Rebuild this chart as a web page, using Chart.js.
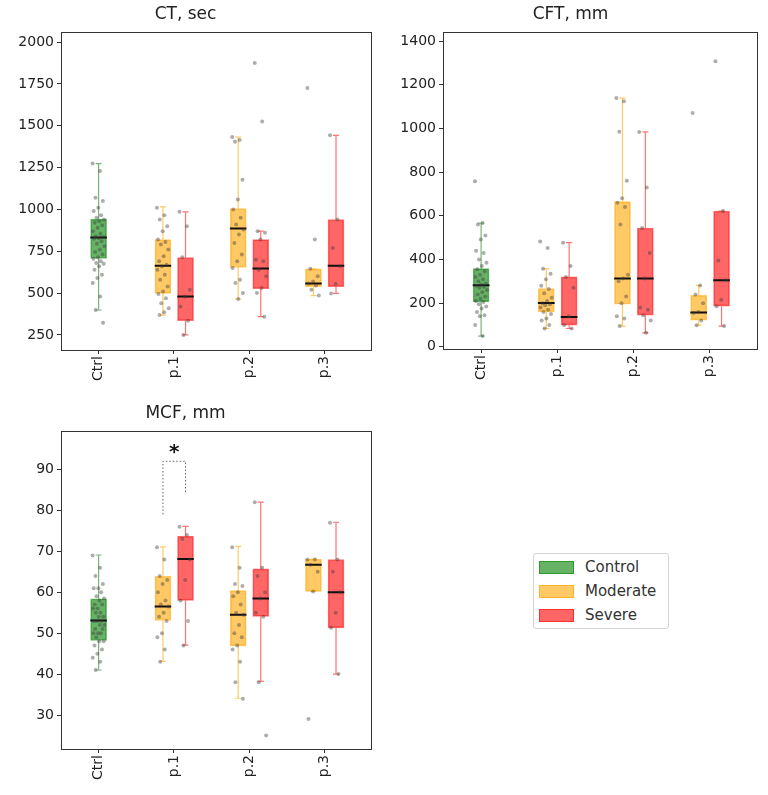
<!DOCTYPE html>
<html>
<head>
<meta charset="utf-8">
<script src="https://cdn.jsdelivr.net/npm/chart.js@4.4.0/dist/chart.umd.min.js"></script>
<style>
  body { margin: 0; background: #fff; }
  #wrap { position: relative; width: 768px; height: 795px; font-family: "DejaVu Sans", sans-serif; }
  canvas { position: absolute; }
  #legend {
    position: absolute; left: 533px; top: 553px; width: 134px; height: 74px;
    border: 1px solid #d4d4d4; border-radius: 3px; background: #fff;
  }
  #legend .row { position: absolute; left: 5px; height: 16px; font-size: 15px; color: #333; line-height: 16px; }
  #legend .patch { position: absolute; left: 0; top: 2px; width: 33px; height: 11px; }
  #legend .lbl { position: absolute; left: 46px; top: 0; white-space: nowrap; }
</style>
</head>
<body>
<div id="wrap">
  <canvas id="ctChart" width="384" height="400" style="left:0;top:0"></canvas>
  <canvas id="cftChart" width="384" height="400" style="left:384px;top:0"></canvas>
  <canvas id="mcfChart" width="384" height="400" style="left:0;top:399px"></canvas>
  <div id="legend"></div>
</div>
<script>
// ===== DATA =====
const categories = ['Ctrl', 'p.1', 'p.2', 'p.3'];
const groupNames = ['Control', 'Moderate', 'Severe'];

// box stats: [low whisker, q1, median, q3, high whisker]
const ctControl = [399, 707, 832, 942, 1274];
const ctModerate = [[369, 498, 663, 820, 1015], [465, 653, 886, 1005, 1433], [485, 538, 558, 645, 645]];
const ctSevere = [[250, 335, 480, 713, 986], [359, 526, 647, 820, 870], [498, 538, 663, 940, 1443]];
const ctControlPts = [1274, 1230, 1070, 1050, 1010, 990, 965, 950, 940, 930, 920, 905, 890, 870, 855, 840, 835, 830, 825, 810, 795, 780, 760, 745, 730, 715, 705, 690, 680, 675, 660, 640, 610, 590, 560, 480, 399, 323];
const ctModeratePts = [
  [1010, 965, 940, 900, 870, 820, 805, 790, 760, 720, 690, 670, 660, 640, 610, 580, 540, 510, 495, 470, 440, 410, 385, 369],
  [1433, 1415, 1405, 1178, 1060, 1000, 950, 910, 880, 850, 800, 730, 690, 650, 580, 560, 500, 465],
  [1725, 820, 645, 600, 570, 558, 545, 520, 485]
];
const ctSeverePts = [
  [986, 900, 715, 520, 480, 420, 335, 250],
  [1875, 1525, 870, 860, 820, 700, 690, 640, 600, 530, 500, 359],
  [1443, 940, 770, 660, 555, 498]
];
const ctTicks = [250, 500, 750, 1000, 1250, 1500, 1750, 2000];
const ctRange = [160, 2058];

const cftControl = [49, 206, 282, 358, 567];
const cftModerate = [[84, 160, 201, 267, 358], [95, 195, 313, 665, 1139], [99, 122, 157, 236, 281]];
const cftSevere = [[84, 99, 137, 320, 477], [64, 145, 313, 544, 984], [95, 186, 305, 622, 622]];
const cftControlPts = [758, 567, 560, 510, 491, 440, 430, 400, 385, 370, 355, 345, 330, 320, 310, 300, 290, 285, 280, 275, 270, 260, 250, 240, 230, 220, 210, 205, 195, 185, 175, 160, 145, 140, 100, 49];
const cftModeratePts = [
  [482, 453, 358, 335, 310, 280, 265, 245, 225, 210, 200, 195, 190, 180, 170, 160, 150, 130, 120, 100, 84],
  [1139, 1125, 985, 760, 680, 660, 640, 560, 330, 313, 300, 230, 200, 140, 130, 95],
  [1071, 281, 240, 200, 160, 155, 120, 99]
];
const cftSeverePts = [
  [477, 370, 320, 270, 140, 100, 84],
  [984, 730, 544, 430, 313, 180, 170, 145, 120, 64],
  [1308, 622, 395, 305, 215, 186, 95]
];
const cftTicks = [0, 200, 400, 600, 800, 1000, 1200, 1400];
const cftRange = [-10, 1440];

const mcfControl = [41, 48.2, 53.1, 58.4, 69.1];
const mcfModerate = [[43.1, 53.1, 56.5, 63.9, 71.1], [34.1, 46.9, 54.5, 60.4, 71.2], [60.2, 60.2, 66.7, 68.1, 68.1]];
const mcfSevere = [[47.1, 58, 68.1, 73.7, 76.1], [38.2, 54.1, 58.5, 65.7, 82], [40, 51.3, 60, 68, 77.1]];
const mcfControlPts = [69, 66, 64, 62, 61, 61, 60, 59, 58.5, 58, 57, 57, 56, 56, 55, 55, 54, 54, 53, 53, 53, 52, 52, 51, 51, 50, 50, 50, 49, 48, 48, 47, 46, 45, 44, 43, 41];
const mcfModeratePts = [
  [71, 68, 64, 63, 62, 60, 58, 57, 56.5, 55, 54, 53, 50, 49, 46, 43],
  [71, 66, 62, 61.5, 60, 59, 57, 55, 54.5, 52, 50, 49, 47, 46, 43, 38, 34],
  [68, 68, 66.7, 65, 60.2, 29]
];
const mcfSeverePts = [
  [76, 74, 73, 68, 63, 58, 53, 47],
  [82, 66, 64, 60, 58.5, 55, 54, 38, 25],
  [77, 68, 65, 60, 55, 51.3, 40]
];
const mcfTicks = [30, 40, 50, 60, 70, 80, 90];
const mcfRange = [21.7, 99.3];
// significance bracket (Moderate vs Severe at p.1): [moderate low, top, severe low], star height
const mcfBracket = [79, 92, 84];
const mcfStarY = 95;

// ===== STYLE =====
const fills = ['rgba(0,128,0,0.6)', 'rgba(255,165,0,0.6)', 'rgba(255,0,0,0.6)'];
const edges = ['rgba(0,128,0,0.55)', 'rgba(255,165,0,0.6)', 'rgba(255,0,0,0.55)'];
const shift = [0, -0.145, 0.155];
const FONT = '"DejaVu Sans", sans-serif';

const xPos = (cat, g) => cat + shift[g];
const jitter = i => (((i * 0.618034) % 1) - 0.5) * 0.16;

const framePlugin = {
  id: 'frame',
  afterDraw(chart) {
    const { ctx, chartArea: a } = chart;
    ctx.save();
    ctx.strokeStyle = '#333';
    ctx.lineWidth = 1;
    ctx.strokeRect(Math.round(a.left) + 0.5, Math.round(a.top) + 0.5, Math.round(a.right - a.left), Math.round(a.bottom - a.top));
    ctx.restore();
  }
};

const starPlugin = {
  id: 'sigStar',
  afterDatasetsDraw(chart) {
    const { ctx, scales: { x, y } } = chart;
    const cx = x.getPixelForValue((xPos(1, 1) + xPos(1, 2)) / 2);
    ctx.save();
    ctx.font = 'bold 20px ' + FONT;
    ctx.textAlign = 'center';
    ctx.textBaseline = 'middle';
    ctx.fillStyle = '#111';
    ctx.fillText('*', cx, y.getPixelForValue(mcfStarY) + 4);
    ctx.restore();
  }
};

// ===== BUILD ONE PANEL =====
const buildPanel = (id, title, ticks, range, control, controlPts, moderate, moderatePts, severe, severePts, opts) => {
  const series = [
    [{ cat: 0, box: control, pts: controlPts }],
    moderate.map((b, i) => ({ cat: i + 1, box: b, pts: moderatePts[i] })),
    severe.map((b, i) => ({ cat: i + 1, box: b, pts: severePts[i] }))
  ];
  const datasets = [];
  const medians = [];
  const points = [];

  series.forEach((list, g) => {
    datasets.push({
      type: 'bar',
      label: groupNames[g],
      data: list.map(e => ({ x: xPos(e.cat, g), y: [e.box[1], e.box[3]] })),
      backgroundColor: fills[g],
      borderColor: edges[g],
      borderWidth: 1,
      borderSkipped: false,
      barThickness: 16,
      grouped: false,
      order: 2
    });
    const wh = [];
    list.forEach(e => {
      const x = xPos(e.cat, g), b = e.box;
      wh.push({ x, y: b[0] }, { x, y: b[1] }, { x, y: null },
              { x, y: b[3] }, { x, y: b[4] }, { x, y: null },
              { x: x - 0.04, y: b[0] }, { x: x + 0.04, y: b[0] }, { x, y: null },
              { x: x - 0.04, y: b[4] }, { x: x + 0.04, y: b[4] }, { x, y: null });
      medians.push({ x: x - 0.11, y: b[2] }, { x: x + 0.11, y: b[2] }, { x, y: null });
      e.pts.forEach((v, i) => points.push({ x: x + jitter(i), y: v }));
    });
    datasets.push({
      type: 'line', data: wh, borderColor: edges[g], borderWidth: 1.2,
      pointRadius: 0, spanGaps: false, order: 3
    });
  });

  datasets.push({
    type: 'line', data: medians, borderColor: '#111', borderWidth: 2,
    pointRadius: 0, spanGaps: false, order: 1
  });
  datasets.push({
    type: 'scatter', data: points, backgroundColor: 'rgba(60,60,60,0.42)',
    borderWidth: 0, pointRadius: 2, order: 0
  });

  const plugins = [framePlugin];
  if (opts.bracket) {
    const m = xPos(1, 1), s = xPos(1, 2);
    datasets.push({
      type: 'line',
      data: [{ x: m, y: opts.bracket[0] }, { x: m, y: opts.bracket[1] }, { x: s, y: opts.bracket[1] }, { x: s, y: opts.bracket[2] }],
      borderColor: '#666', borderWidth: 1, borderDash: [1.5, 2], pointRadius: 0, order: 0
    });
    plugins.push(starPlugin);
  }

  const tickFont = { family: FONT, size: 14 };
  const gridOpts = { display: true, offset: false, drawOnChartArea: false, drawTicks: true, tickLength: 4, color: '#333' };

  new Chart(document.getElementById(id), {
    type: 'bar',
    data: { datasets },
    plugins,
    options: {
      responsive: false,
      animation: false,
      devicePixelRatio: 1,
      layout: { padding: { left: 0, right: opts.padRight, top: 0, bottom: 0 } },
      plugins: {
        legend: { display: false },
        tooltip: { enabled: false },
        title: {
          display: true, text: title, color: '#222',
          font: { family: FONT, size: 17, weight: 'normal' },
          padding: { top: 4, bottom: 8 }
        }
      },
      scales: {
        x: {
          type: 'linear', min: -0.5, max: 3.62, offset: false,
          afterBuildTicks: s => { s.ticks = categories.map((c, i) => ({ value: i })); },
          afterFit: s => { s.height = opts.xHeight; },
          ticks: { callback: v => categories[v], minRotation: 90, maxRotation: 90, autoSkip: false, color: '#222', font: tickFont, padding: 2 },
          grid: gridOpts,
          border: { display: true, color: '#333', width: 1 }
        },
        y: {
          min: range[0], max: range[1],
          afterBuildTicks: s => { s.ticks = ticks.map(v => ({ value: v })); },
          afterFit: s => { s.width = opts.yWidth; },
          ticks: { callback: v => String(v), autoSkip: false, color: '#222', font: tickFont, padding: 3 },
          grid: gridOpts,
          border: { display: true, color: '#333', width: 1 }
        }
      }
    }
  });
};

buildPanel('ctChart', 'CT, sec', ctTicks, ctRange, ctControl, ctControlPts, ctModerate, ctModeratePts, ctSevere, ctSeverePts,
  { yWidth: 61, padRight: 13, xHeight: 50 });
buildPanel('cftChart', 'CFT, mm', cftTicks, cftRange, cftControl, cftControlPts, cftModerate, cftModeratePts, cftSevere, cftSeverePts,
  { yWidth: 59, padRight: 11, xHeight: 51 });
buildPanel('mcfChart', 'MCF, mm', mcfTicks, mcfRange, mcfControl, mcfControlPts, mcfModerate, mcfModeratePts, mcfSevere, mcfSeverePts,
  { yWidth: 61, padRight: 13, xHeight: 50, bracket: mcfBracket });

// ===== LEGEND =====
const legend = document.getElementById('legend');
groupNames.forEach((name, g) => {
  const row = document.createElement('div');
  row.className = 'row';
  row.style.top = (5 + g * 24) + 'px';
  row.innerHTML = '<span class="patch" style="background:' + fills[g] + ';border:1px solid ' + edges[g] + '"></span><span class="lbl">' + name + '</span>';
  legend.appendChild(row);
});
</script>
</body>
</html>
